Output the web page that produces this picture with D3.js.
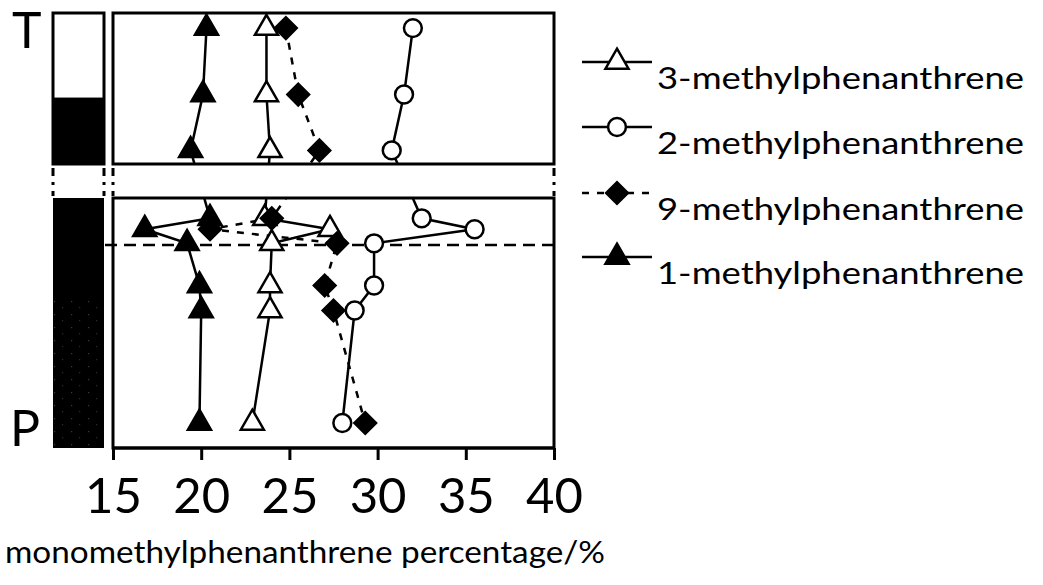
<!DOCTYPE html>
<html><head><meta charset="utf-8">
<script src="https://cdn.jsdelivr.net/npm/d3@7"></script>
<style>body{margin:0;background:#fff}svg{display:block}</style>
</head><body>
<svg id="chart" width="1043" height="585"></svg>
<script>
// ---------- data ----------
const xTicks = [15, 20, 25, 30, 35, 40];
const xTitle = "monomethylphenanthrene percentage/%";
const sectionLabels = ["T", "P"];
// sample positions (relative depth; 10-12 is the break between the two sections)
const depthLevels = [1.0, 5.4, 9.1, 13.3, 14.0, 14.9, 17.6, 19.2, 26.4];
const mp3 = [23.7, 23.7, 23.9, 23.6, 27.3, 24.0, 23.9, 23.9, 22.9];
const mp2 = [32.0, 31.5, 30.8, 32.5, 35.5, 29.8, 29.8, 28.7, 28.0];
const mp9 = [24.8, 25.5, 26.7, 24.0, 20.5, 27.7, 27.0, 27.5, 29.3];
const mp1 = [20.3, 20.1, 19.4, 20.5, 16.8, 19.2, 19.9, 20.0, 19.9];
const seriesNames = ["3-methylphenanthrene", "2-methylphenanthrene", "9-methylphenanthrene", "1-methylphenanthrene"];
const boundaryDepth = 15.0;
const lithoFrom = [0, 5.6, 12, 18.5];
const lithoTo = [5.6, 10, 28, 28];
const lithoKind = ["light", "dark", "dark", "speckle"];

// ---------- layout ----------
const svg = d3.select("#chart");
const FONT = "Lato, 'Open Sans', sans-serif";
const x = d3.scaleLinear().domain([15, 40]).range([113, 554]);
const y = d3.scaleLinear().domain([0, 10, 12, 28]).range([13, 164, 198, 448]);
const topPanel = [0, 10], botPanel = [12, 28];
const barL = 53, barR = 104;

const series = [
  {name: seriesNames[0], vals: mp3, sym: d3.symbolTriangle, size: 230, fill: "#fff", dash: null, rot: 0},
  {name: seriesNames[1], vals: mp2, sym: d3.symbolCircle, size: 250, fill: "#fff", dash: null, rot: 0},
  {name: seriesNames[2], vals: mp9, sym: d3.symbolSquare, size: 235, fill: "#000", dash: "7,8", rot: 45},
  {name: seriesNames[3], vals: mp1, sym: d3.symbolTriangle, size: 230, fill: "#000", dash: null, rot: 0}
];

const defs = svg.append("defs");
[["clipTop", topPanel], ["clipBot", botPanel]].forEach(([id, d]) => {
  defs.append("clipPath").attr("id", id).append("rect")
    .attr("x", x(15)).attr("y", y(d[0])).attr("width", x(40) - x(15)).attr("height", y(d[1]) - y(d[0]));
});
const pat = defs.append("pattern").attr("id", "speck").attr("patternUnits", "userSpaceOnUse")
  .attr("width", 17).attr("height", 13);
pat.append("rect").attr("width", 17).attr("height", 13).attr("fill", "#000");
pat.append("rect").attr("x", 3).attr("y", 2).attr("width", 1.2).attr("height", 1.2).attr("fill", "#3a3a3a");
pat.append("rect").attr("x", 11).attr("y", 8).attr("width", 1.2).attr("height", 1.2).attr("fill", "#2a2a2a");

// ---------- lithology column ----------
lithoFrom.forEach((f, i) => {
  svg.append("rect").attr("x", barL).attr("y", y(f)).attr("width", barR - barL)
    .attr("height", y(lithoTo[i]) - y(f))
    .attr("fill", lithoKind[i] === "light" ? "#fff" : lithoKind[i] === "speckle" ? "url(#speck)" : "#000");
});
svg.append("rect").attr("x", barL).attr("y", y(0)).attr("width", barR - barL)
  .attr("height", y(10) - y(0)).attr("fill", "none").attr("stroke", "#000").attr("stroke-width", 3);

// ---------- panel frames ----------
[topPanel, botPanel].forEach(d => {
  svg.append("rect").attr("x", x(15)).attr("y", y(d[0])).attr("width", x(40) - x(15))
    .attr("height", y(d[1]) - y(d[0])).attr("fill", "none").attr("stroke", "#000").attr("stroke-width", 3);
});
// break marks (dash-dot verticals in the gap)
[barL, barR, x(15), x(40)].forEach(px => {
  svg.append("line").attr("x1", px).attr("x2", px).attr("y1", y(10) + 4).attr("y2", y(12) - 2)
    .attr("stroke", "#000").attr("stroke-width", 3).attr("stroke-dasharray", "8,6,3,6");
});

// ---------- x axis ----------
const axis = svg.append("g").attr("transform", `translate(0,${y(28)})`)
  .call(d3.axisBottom(x).tickValues(xTicks).tickSize(12).tickPadding(8).tickFormat(d3.format("d")));
axis.select(".domain").attr("stroke-width", 3).attr("d", `M${x(15)},0H${x(40)}`);
axis.selectAll(".tick line").attr("stroke-width", 3);
axis.selectAll(".tick text").attr("font-family", FONT).attr("font-size", 49).attr("fill", "#000")
  .attr("dy", "0.92em");

svg.append("text").attr("x", 5).attr("y", 563).attr("font-family", FONT).attr("font-size", 30)
  .attr("textLength", 600).attr("lengthAdjust", "spacingAndGlyphs").text(xTitle);

// section labels
svg.append("text").attr("x", 12).attr("y", 48).attr("font-family", FONT).attr("font-size", 50).text(sectionLabels[0]);
svg.append("text").attr("x", 10).attr("y", 446).attr("font-family", FONT).attr("font-size", 50).text(sectionLabels[1]);

// boundary dashed line
svg.append("line").attr("x1", 105).attr("x2", x(40)).attr("y1", y(boundaryDepth)).attr("y2", y(boundaryDepth))
  .attr("stroke", "#000").attr("stroke-width", 2.5).attr("stroke-dasharray", "12,7");

// ---------- series lines ----------
const line = d3.line().x(d => x(d[0])).y(d => y(d[1]));
series.forEach(s => {
  const pts = s.vals.map((v, i) => [v, depthLevels[i]]);
  ["clipTop", "clipBot"].forEach(c => {
    svg.append("path").attr("d", line(pts)).attr("fill", "none").attr("stroke", "#000")
      .attr("stroke-width", 2.5).attr("stroke-dasharray", s.dash).attr("clip-path", `url(#${c})`);
  });
});

// ---------- markers ----------
function marker(g, s, cx, cy) {
  g.append("path").attr("d", d3.symbol().type(s.sym).size(s.size)())
    .attr("transform", `translate(${cx},${cy}) rotate(${s.rot})`)
    .attr("fill", s.fill).attr("stroke", "#000").attr("stroke-width", 2.5).attr("stroke-linejoin", "miter");
}
const drawOrder = [3, 0, 2, 1];
drawOrder.forEach(k => {
  const s = series[k];
  const g = svg.append("g");
  s.vals.forEach((v, i) => marker(g, s, x(v), y(depthLevels[i])));
});

// ---------- legend ----------
const legY = [62, 127, 193, 257];
series.forEach((s, i) => {
  const g = svg.append("g");
  g.append("line").attr("x1", 582).attr("x2", 652).attr("y1", legY[i]).attr("y2", legY[i])
    .attr("stroke", "#000").attr("stroke-width", 2.5).attr("stroke-dasharray", s.dash);
  marker(g, s, 617, legY[i]);
  g.append("text").attr("x", 657).attr("y", legY[i] + 27).attr("font-family", FONT).attr("font-size", 30)
    .attr("textLength", 367).attr("lengthAdjust", "spacingAndGlyphs").text(s.name);
});
</script>
</body></html>
